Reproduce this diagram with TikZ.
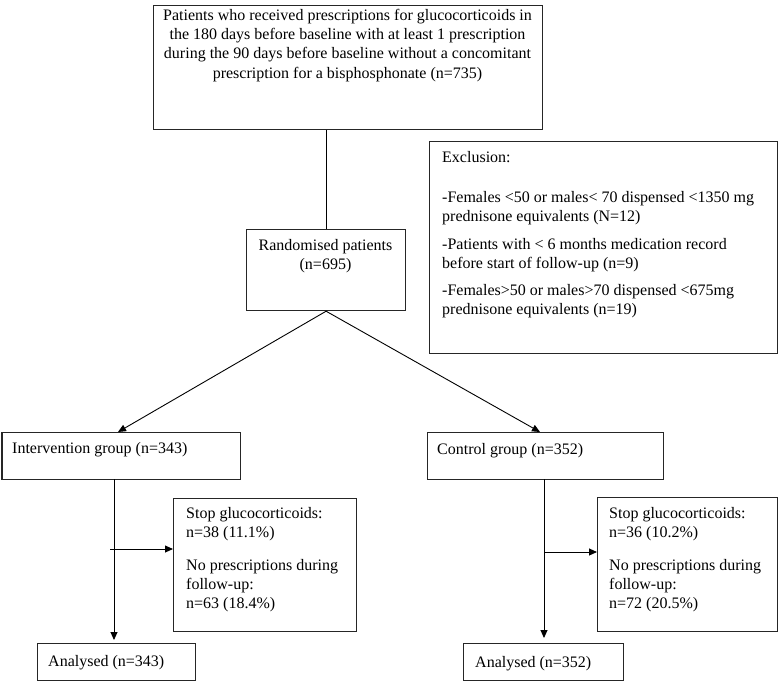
\documentclass[tikz,border=0pt]{standalone}
\usepackage{fontspec}
\setmainfont{Liberation Serif}
\usetikzlibrary{arrows.meta}
\begin{document}
\begin{tikzpicture}[x=1pt,y=-1pt,
  box/.style={draw=black!85, line width=1.2pt, inner sep=0pt, anchor=north west},
  conn/.style={draw=black, line width=0.9pt},
  arr/.style={conn, -{Triangle[length=8pt,width=7pt]}},
  txt/.style={inner sep=0pt, anchor=base west, font=\fontsize{16}{19}\selectfont},
  ctxt/.style={txt, anchor=base},
]
\useasboundingbox (0,0) rectangle (779,681);

% boxes
\node[box, minimum width=389pt, minimum height=124pt] (top) at (153,5) {};
\node[box, minimum width=159pt, minimum height=81pt] (rand) at (246,229) {};
\node[box, minimum width=348pt, minimum height=212pt] (excl) at (429,141) {};
\node[box, minimum width=238pt, minimum height=47pt] (interv) at (1.5,432) {};
\node[box, minimum width=236pt, minimum height=47pt] (ctrl) at (427,432) {};
\node[box, minimum width=183pt, minimum height=133pt] (stopL) at (173,498) {};
\node[box, minimum width=180pt, minimum height=134pt] (stopR) at (597,497) {};
\node[box, minimum width=158pt, minimum height=37pt] (anaL) at (37,643) {};
\node[box, minimum width=160pt, minimum height=37pt] (anaR) at (463,643) {};

% texts
\node[ctxt, font=\fontsize{16}{19.4}\selectfont] (topT) at (347.5,20) {\begin{tabular}[t]{@{}c@{}}Patients who received prescriptions for glucocorticoids in\\ the 180 days before baseline with at least 1 prescription\\ during the 90 days before baseline without a concomitant\\ prescription for a bisphosphonate (n=735)\end{tabular}};
\node[ctxt] (randT) at (325.5,250) {\begin{tabular}[t]{@{}c@{}}Randomised patients\\ (n=695)\end{tabular}};
\node[txt] (exclT) at (442,162) {\begin{tabular}[t]{@{}l@{}}Exclusion:\\[21pt]
-Females <50 or males< 70 dispensed <1350 mg\\ prednisone equivalents (N=12)\\[9pt]
-Patients with < 6 months medication record\\ before start of follow-up (n=9)\\[8pt]
-Females>50 or males>70 dispensed <675mg\\ prednisone equivalents (n=19)\end{tabular}};
\node[txt] (intervT) at (12,453) {Intervention group (n=343)};
\node[txt] (ctrlT) at (437,454) {Control group (n=352)};
\node[txt] (stopLT) at (186,518) {\begin{tabular}[t]{@{}l@{}}Stop glucocorticoids:\\ n=38 (11.1\%)\\[14pt] No prescriptions during\\ follow-up:\\ n=63 (18.4\%)\end{tabular}};
\node[txt] (stopRT) at (609,518) {\begin{tabular}[t]{@{}l@{}}Stop glucocorticoids:\\ n=36 (10.2\%)\\[14pt] No prescriptions during\\ follow-up:\\ n=72 (20.5\%)\end{tabular}};
\node[txt] (anaLT) at (48,666) {Analysed (n=343)};
\node[txt] (anaRT) at (475,667) {Analysed (n=352)};

% connector coordinates
\coordinate (iIn) at (118,432);
\coordinate (cIn) at (540,432);
\coordinate (lDown) at (114,479);
\coordinate (lEnd) at (114,640);
\coordinate (lSide) at (110,549);
\coordinate (rDown) at (544,479);
\coordinate (rEnd) at (544,638);
\coordinate (rSide) at (544,552);

\draw[conn] (rand.north |- top.south) -- (rand.north);
\draw[arr] (rand.south) -- (iIn);
\draw[arr] (rand.south) -- (cIn);
\draw[arr] (lDown) -- (lEnd);
\draw[arr] (lSide) -- (stopL.west |- lSide);
\draw[arr] (rDown) -- (rEnd);
\draw[arr] (rSide) -- (stopR.west |- rSide);
\end{tikzpicture}
\end{document}
